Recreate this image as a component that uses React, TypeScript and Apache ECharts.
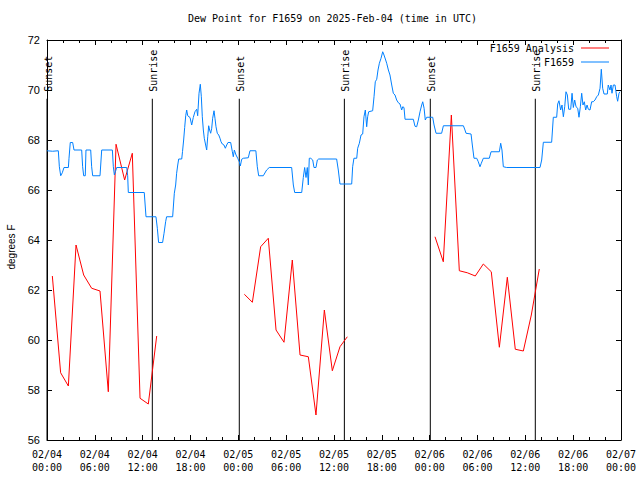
import React, { useEffect, useRef } from "react";
import * as echarts from "echarts";

const chartTitle = "Dew Point for F1659 on 2025-Feb-04 (time in UTC)";
const yAxisTitle = "degrees F";
const analysisName = "F1659 Analysis";
const observedName = "F1659";

const xTickLabels = [
  "02/04\n00:00", "02/04\n06:00", "02/04\n12:00", "02/04\n18:00",
  "02/05\n00:00", "02/05\n06:00", "02/05\n12:00", "02/05\n18:00",
  "02/06\n00:00", "02/06\n06:00", "02/06\n12:00", "02/06\n18:00",
  "02/07\n00:00",
];

// hours since 02/04 00:00 UTC
const sunHours = [0.0, 13.21, 24.12, 37.3, 48.08, 61.25];
const sunLabels = ["Sunset", "Sunrise", "Sunset", "Sunrise", "Sunset", "Sunrise"];
const sunLineTop = 69.65;

const analysisDay1 = [
  [0.67, 62.56], [1.71, 58.69], [2.68, 58.16], [3.64, 63.8], [4.6, 62.6],
  [5.6, 62.07], [6.65, 61.96], [7.69, 57.93], [8.66, 67.83], [9.74, 66.4],
  [10.7, 67.47], [11.67, 57.67], [12.71, 57.44], [13.76, 60.16],
];
const analysisDay2 = [
  [24.75, 61.83], [25.76, 61.51], [26.8, 63.73], [27.76, 64.07], [28.73, 60.4],
  [29.73, 59.91], [30.77, 63.2], [31.74, 59.4], [32.78, 59.33], [33.74, 57.0],
  [34.79, 61.2], [35.79, 58.77], [36.75, 59.73], [37.67, 60.13],
];
const analysisDay3 = [
  [48.67, 64.13], [49.71, 63.13], [50.72, 69.0], [51.72, 62.77], [52.72, 62.69],
  [53.72, 62.56], [54.73, 63.04], [55.73, 62.73], [56.74, 59.71], [57.74, 62.51],
  [58.74, 59.63], [59.75, 59.56], [60.75, 61.0], [61.75, 62.84],
];

const observed = [
  [0, 67.57], [0.7, 67.55], [1.42, 67.57], [1.55, 66.93], [1.72, 66.57], [1.92, 66.69],
  [2.13, 66.9], [2.68, 66.9], [2.76, 67.27], [2.92, 67.9], [3.22, 67.9], [3.39, 67.6],
  [4.35, 67.6], [4.47, 66.93], [4.6, 66.57], [4.8, 66.57], [4.89, 67.6], [5.48, 67.6],
  [5.6, 66.93], [5.73, 66.57], [6.65, 66.57], [6.86, 67.6], [8.2, 67.6], [8.32, 66.93],
  [8.45, 66.6], [8.6, 66.75], [8.74, 66.9], [10.0, 66.9], [10.12, 66.57], [10.2, 65.9],
  [12.2, 65.9], [12.42, 64.93], [13.67, 64.93], [13.84, 64.47], [14.0, 63.9], [14.5, 63.9],
  [14.68, 64.27], [14.88, 64.73], [15.0, 64.93], [15.76, 64.93], [15.97, 65.87], [16.14, 66.2],
  [16.26, 66.67], [16.4, 67.0], [16.52, 67.24], [16.9, 67.24], [17.0, 67.54], [17.14, 68.0],
  [17.27, 68.5], [17.4, 68.97], [17.52, 69.2], [17.65, 68.97], [17.94, 68.9], [18.15, 68.6],
  [18.35, 68.9], [18.56, 69.13], [18.78, 69.23], [18.9, 68.97], [19.07, 69.87], [19.23, 70.23],
  [19.36, 69.73], [19.48, 68.93], [19.61, 68.4], [19.73, 68.07], [19.9, 67.8], [20.03, 67.6],
  [20.16, 68.13], [20.28, 68.57], [20.4, 68.4], [20.53, 68.27], [20.66, 68.47], [20.78, 68.87],
  [20.95, 69.17], [21.07, 68.87], [21.2, 68.53], [21.36, 68.27], [21.54, 68.2], [21.7, 68.07],
  [21.83, 67.93], [21.99, 67.84], [22.2, 67.8], [22.37, 67.67], [22.54, 67.8], [22.7, 67.9],
  [23.04, 67.9], [23.25, 67.53], [23.37, 67.33], [23.5, 67.6], [23.71, 67.4], [23.92, 67.27],
  [24.12, 67.13], [24.25, 66.96], [24.42, 67.23], [24.63, 67.27], [25.25, 67.29], [25.46, 67.57],
  [26.2, 67.57], [26.38, 66.93], [26.55, 66.57], [27.13, 66.57], [27.55, 66.8], [27.88, 66.9],
  [30.69, 66.9], [30.9, 66.2], [31.07, 65.9], [31.95, 65.9], [32.15, 66.5], [32.32, 66.9],
  [32.49, 66.5], [32.65, 66.9], [32.78, 66.2], [32.9, 67.27], [33.08, 67.27], [33.33, 67.2],
  [33.49, 66.9], [33.74, 66.9], [33.91, 67.2], [34.08, 67.24], [36.33, 67.24], [36.54, 66.8],
  [36.75, 66.24], [38.22, 66.24], [38.34, 66.93], [38.5, 67.27], [38.85, 67.27], [38.97, 67.67],
  [39.18, 67.87], [39.39, 68.2], [39.6, 68.24], [39.76, 68.93], [39.93, 69.2], [40.1, 68.53],
  [40.22, 68.93], [40.35, 69.13], [40.85, 69.17], [41.02, 69.73], [41.18, 70.33], [41.36, 70.43],
  [41.52, 70.8], [41.69, 71.07], [41.9, 71.27], [42.11, 71.53], [42.27, 71.4], [42.44, 71.24],
  [42.61, 71.07], [42.82, 70.8], [43.02, 70.6], [43.24, 70.2], [43.44, 69.87], [43.65, 69.8],
  [43.86, 69.6], [44.07, 69.49], [44.28, 69.44], [44.49, 69.2], [44.62, 69.33], [44.78, 69.3],
  [44.91, 68.83], [45.95, 68.83], [46.16, 68.55], [46.37, 68.53], [46.58, 68.8], [46.79, 69.13],
  [47.0, 69.4], [47.13, 69.53], [47.3, 69.27], [47.45, 68.8], [47.63, 68.91], [48.38, 68.91],
  [48.55, 68.6], [48.8, 68.27], [49.5, 68.27], [49.72, 68.57], [52.23, 68.57], [52.43, 68.4],
  [52.56, 68.27], [53.19, 68.24], [53.35, 67.8], [53.56, 67.27], [53.9, 67.27], [54.1, 67.13],
  [54.31, 66.93], [54.48, 67.07], [54.73, 67.27], [55.48, 67.27], [55.7, 67.53], [56.74, 67.53],
  [56.91, 67.87], [57.07, 67.6], [57.24, 66.93], [57.66, 66.9], [61.84, 66.9], [62.05, 67.2],
  [62.26, 67.91], [63.3, 67.91], [63.51, 68.91], [63.93, 68.91], [64.06, 69.44], [64.22, 69.57],
  [64.43, 69.2], [64.6, 69.4], [64.77, 68.93], [64.94, 69.33], [65.1, 69.93], [65.27, 69.8],
  [65.44, 69.23], [65.69, 69.23], [65.86, 69.87], [66.02, 69.3], [66.19, 69.6], [66.36, 69.33],
  [66.57, 69.27], [66.73, 68.91], [66.9, 69.33], [67.07, 69.87], [67.23, 69.4], [67.4, 69.53],
  [67.57, 69.2], [67.74, 69.4], [67.9, 69.23], [68.11, 69.2], [68.32, 69.53], [68.52, 69.53],
  [68.74, 69.6], [68.95, 69.73], [69.16, 69.8], [69.37, 70.07], [69.53, 70.83], [69.7, 70.07],
  [69.87, 69.84], [70.28, 69.84], [70.4, 70.2], [70.62, 70.0], [70.75, 70.2], [70.87, 69.87],
  [71.04, 70.2], [71.25, 70.2], [71.46, 69.73], [71.58, 69.55], [71.75, 69.87], [71.88, 69.93],
];

const MONO = "'DejaVu Sans Mono', 'Liberation Mono', monospace";
const SANS = "'Liberation Sans', Arial, sans-serif";
const RED = "#ff0000";
const BLUE = "#0080ff";

export default function App() {
  const ref = useRef<HTMLDivElement>(null);

  useEffect(() => {
    if (!ref.current) return;
    const chart = echarts.init(ref.current, null, { renderer: "svg" });

    const analysis: any[] = [
      ...analysisDay1,
      [14.5, "-"],
      ...analysisDay2,
      [38.5, "-"],
      ...analysisDay3,
    ];

    const xAxisCommon = {
      type: "value",
      min: 0,
      max: 72,
      interval: 6,
      splitLine: { show: false },
      axisLine: { show: true, onZero: false, lineStyle: { color: "#000", width: 1 } },
      axisTick: { show: true, inside: true, length: 5, lineStyle: { color: "#000", width: 1 } },
      minorTick: { show: true, splitNumber: 3, length: 3, lineStyle: { color: "#000", width: 1 } },
    };
    const yAxisCommon = {
      type: "value",
      min: 56,
      max: 72,
      interval: 2,
      splitLine: { show: false },
      axisLine: { show: true, onZero: false, lineStyle: { color: "#000", width: 1 } },
      axisTick: { show: true, inside: true, length: 5, lineStyle: { color: "#000", width: 1 } },
    };
    const legendCommon = {
      orient: "vertical",
      align: "right",
      right: 31,
      padding: 0,
      icon: "rect",
      itemWidth: 28,
      itemHeight: 1,
      itemGap: 0,
      textStyle: { fontFamily: MONO, fontSize: 10, color: "#000", lineHeight: 14, padding: [0, 2, 0, 0] },
    };

    chart.setOption({
      animation: false,
      backgroundColor: "#ffffff",
      title: {
        text: chartTitle,
        left: 188,
        top: 13,
        padding: 0,
        textStyle: { fontFamily: MONO, fontSize: 10, fontWeight: "normal", color: "#000" },
      },
      grid: { left: 47, right: 19, top: 40, bottom: 40, containLabel: false },
      legend: [
        { ...legendCommon, data: [analysisName], top: 41 },
        { ...legendCommon, data: [observedName], top: 55 },
      ],
      xAxis: [
        {
          ...xAxisCommon,
          position: "bottom",
          axisLabel: {
            show: true,
            formatter: (v: number) => xTickLabels[Math.round(v / 6)] ?? "",
            fontFamily: MONO,
            fontSize: 10,
            color: "#000",
            margin: 8,
            lineHeight: 13,
          },
        },
        { ...xAxisCommon, position: "top", axisLabel: { show: false } },
      ],
      yAxis: [
        {
          ...yAxisCommon,
          position: "left",
          axisLabel: { show: true, fontFamily: SANS, fontSize: 11, color: "#000", margin: 7 },
        },
        { ...yAxisCommon, position: "right", axisLabel: { show: false } },
      ],
      graphic: [
        {
          type: "text",
          x: 11,
          y: 247,
          rotation: Math.PI / 2,
          style: {
            text: yAxisTitle,
            font: `10px ${SANS}`,
            fill: "#000",
            align: "center",
            verticalAlign: "middle",
          },
        },
      ],
      series: [
        {
          type: "custom",
          name: "sun",
          silent: true,
          clip: false,
          xAxisIndex: 0,
          yAxisIndex: 0,
          data: sunHours.map((h, i) => [h, sunLineTop, i]),
          encode: { x: 0, y: 1 },
          renderItem: (_params: any, api: any) => {
            const x = api.value(0);
            const top = api.value(1);
            const idx = api.value(2);
            const pb = api.coord([x, 56]);
            const pt = api.coord([x, top]);
            return {
              type: "group",
              children: [
                {
                  type: "line",
                  shape: { x1: pb[0], y1: pb[1], x2: pt[0], y2: pt[1] },
                  style: { stroke: "#000", lineWidth: 1 },
                },
                {
                  type: "text",
                  x: pt[0] + 1,
                  y: pt[1] - 7,
                  rotation: Math.PI / 2,
                  style: {
                    text: sunLabels[idx],
                    font: `10px ${MONO}`,
                    fill: "#000",
                    align: "left",
                    verticalAlign: "middle",
                  },
                },
              ],
            };
          },
          z: 1,
        },
        {
          type: "line",
          name: analysisName,
          data: analysis,
          color: RED,
          showSymbol: false,
          symbol: "none",
          connectNulls: false,
          lineStyle: { color: RED, width: 1 },
          z: 2,
        },
        {
          type: "line",
          name: observedName,
          data: observed,
          color: BLUE,
          showSymbol: false,
          symbol: "none",
          lineStyle: { color: BLUE, width: 1 },
          z: 3,
        },
      ],
    });

    return () => chart.dispose();
  }, []);

  return (
    <div
      ref={ref}
      style={{ position: "fixed", left: 0, top: 0, width: 640, height: 480, background: "#fff" }}
    />
  );
}
